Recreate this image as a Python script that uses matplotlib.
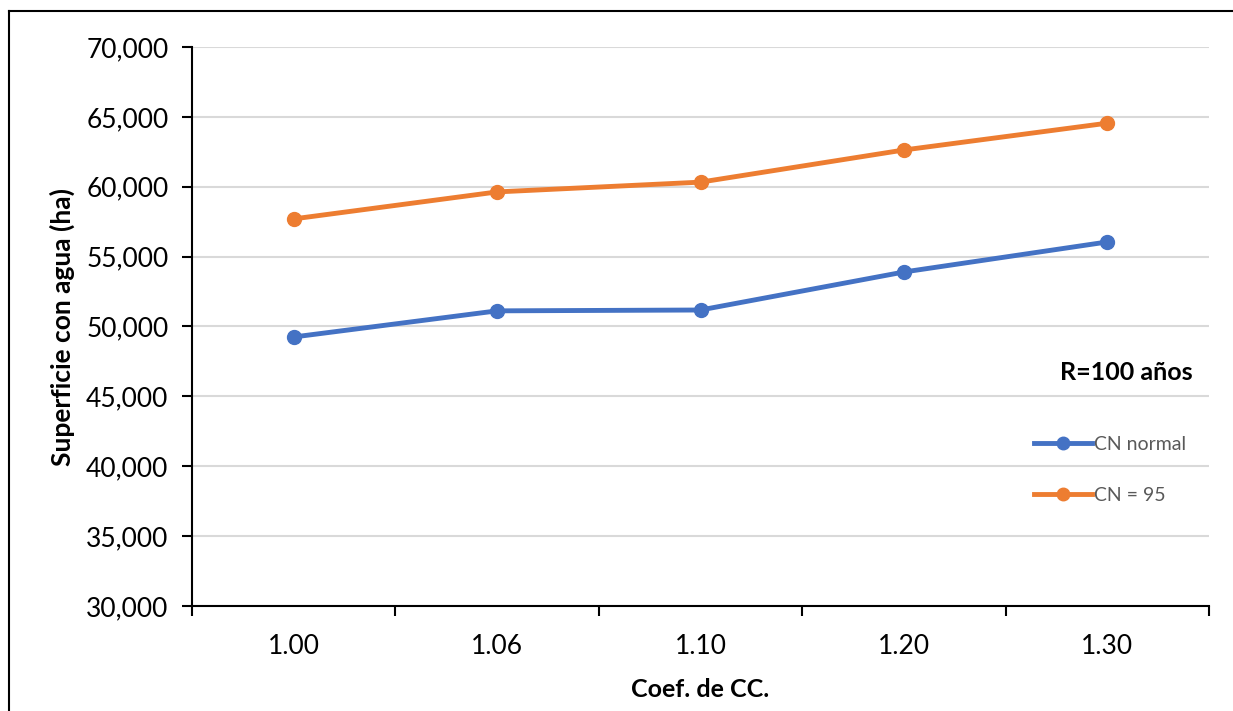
import numpy as np
import matplotlib
matplotlib.use("Agg")
import matplotlib.pyplot as plt
from matplotlib.ticker import FuncFormatter, MultipleLocator
from matplotlib.lines import Line2D

categories = ['1.00', '1.06', '1.10', '1.20', '1.30']
cn_normal = [49250, 51120, 51180, 53900, 56050]
cn_95 = [57700, 59630, 60330, 62630, 64550]

plt.rcParams['font.family'] = ['Lato', 'DejaVu Sans']

W, H = 1233, 711
fig = plt.figure(figsize=(W / 100, H / 100), dpi=100)
ax = fig.add_axes([192 / W, 1 - 606 / H, (1209 - 192) / W, (606 - 47) / H])

xs = np.arange(len(categories))
ax.plot(xs, cn_normal, color='#4472C4', lw=3.5, marker='o', ms=10, label='CN normal')
ax.plot(xs, cn_95, color='#ED7D31', lw=3.5, marker='o', ms=10, label='CN = 95')

ax.set_xlim(-0.5, len(categories) - 0.5)
ax.set_ylim(30000, 70000)
ax.yaxis.set_major_locator(MultipleLocator(5000))
ax.yaxis.set_major_formatter(FuncFormatter(lambda v, p: f'{int(v):,}'))
ax.grid(axis='y', color='#D9D9D9', lw=1.5)
ax.set_axisbelow(True)

ax.set_xticks(xs)
ax.set_xticklabels(categories)
ax.set_xticks(np.arange(-0.5, len(categories)), minor=True)
ax.tick_params(axis='x', which='major', length=0, pad=20, labelsize=19)
ax.tick_params(axis='x', which='minor', length=7, width=1.5, direction='out')
ax.tick_params(axis='y', length=7, width=1.5, labelsize=19, pad=10)

for s in ['top', 'right']:
    ax.spines[s].set_visible(False)
for s in ['left', 'bottom']:
    ax.spines[s].set_linewidth(1.5)

ax.set_xlabel('Coef. de CC.', fontsize=18, fontweight='bold', labelpad=14)
ax.set_ylabel('Superficie con agua (ha)', fontsize=19, fontweight='bold', labelpad=8)

fig.text(1193 / W, 1 - 372 / H, 'R=100 años', fontsize=18, fontweight='bold',
         ha='right', va='center')

handles = [Line2D([], [], color='#4472C4', lw=3.5, marker='o', ms=9),
           Line2D([], [], color='#ED7D31', lw=3.5, marker='o', ms=9)]
fig.legend(handles, ['CN normal', 'CN = 95'], loc='upper left',
           bbox_to_anchor=(1016 / W, 1 - 418 / H), frameon=False,
           fontsize=14, labelcolor='#595959', handlelength=3.0,
           handletextpad=0.1, labelspacing=1.75)

# outer frame (left and top)
fig.add_artist(Line2D([9 / W, 9 / W], [0, 1 - 11 / H], color='black', lw=1.5))
fig.add_artist(Line2D([9 / W, 1], [1 - 11 / H, 1 - 11 / H], color='black', lw=1.5))

fig.savefig('out.png', dpi=100)
